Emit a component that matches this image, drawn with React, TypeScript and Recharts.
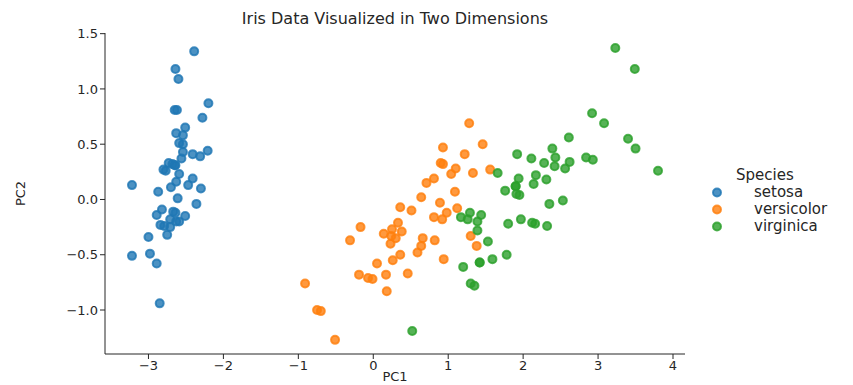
import React from 'react';
import { ScatterChart, Scatter, XAxis, YAxis } from 'recharts';

// PC1 / PC2 values per species
const setosaPC1 = [
  -2.68, -2.71, -2.89, -2.75, -2.73, -2.28, -2.82, -2.63, -2.89, -2.67,
  -2.51, -2.61, -2.79, -3.22, -2.64, -2.39, -2.62, -2.65, -2.2, -2.59,
  -2.31, -2.54, -3.22, -2.3, -2.36, -2.51, -2.47, -2.56, -2.64, -2.63,
  -2.59, -2.41, -2.65, -2.6, -2.64, -2.87, -2.63, -2.8, -2.98, -2.59,
  -2.77, -2.85, -3.0, -2.41, -2.21, -2.71, -2.54, -2.84, -2.54, -2.7,
];
const setosaPC2 = [
  0.32, -0.18, -0.14, -0.32, 0.33, 0.74, -0.09, 0.16, -0.58, -0.11,
  0.65, 0.01, -0.24, -0.51, 1.18, 1.34, 0.81, 0.31, 0.87, 0.51,
  0.39, 0.43, 0.13, 0.1, -0.04, -0.15, 0.13, 0.37, 0.31, -0.2,
  -0.2, 0.41, 0.81, 1.09, -0.12, 0.07, 0.6, 0.27, -0.49, 0.23,
  0.26, -0.94, -0.34, 0.19, 0.44, -0.25, 0.5, -0.23, 0.58, 0.11,
];
const versicolorPC1 = [
  1.28, 0.93, 1.46, 0.18, 1.09, 0.64, 1.1, -0.75, 1.04, -0.01,
  -0.51, 0.51, 0.26, 0.98, -0.17, 0.93, 0.66, 0.24, 0.94, 0.05,
  1.12, 0.36, 1.3, 0.92, 0.71, 0.9, 1.33, 1.56, 0.81, -0.31,
  -0.07, -0.19, 0.14, 1.38, 0.59, 0.81, 1.22, 0.82, 0.25, 0.17,
  0.46, 0.89, 0.23, -0.7, 0.36, 0.33, 0.38, 0.64, -0.91, 0.3,
];
const versicolorPC2 = [
  0.69, 0.32, 0.5, -0.83, 0.07, -0.42, 0.28, -1.0, 0.23, -0.72,
  -1.27, -0.1, -0.55, -0.12, -0.25, 0.47, -0.35, -0.33, -0.54, -0.58,
  -0.08, -0.07, -0.33, -0.18, 0.15, 0.33, 0.24, 0.27, -0.16, -0.37,
  -0.71, -0.68, -0.31, -0.42, -0.48, 0.19, 0.41, -0.37, -0.27, -0.68,
  -0.67, -0.03, -0.4, -1.01, -0.5, -0.21, -0.29, 0.02, -0.76, -0.35,
];
const virginicaPC1 = [
  2.53, 1.42, 2.62, 1.97, 2.35, 3.4, 0.52, 2.93, 2.32, 2.92,
  1.66, 1.8, 2.17, 1.35, 1.59, 1.9, 1.95, 3.49, 3.8, 1.3,
  2.43, 1.2, 3.5, 1.39, 2.28, 2.61, 1.26, 1.29, 2.12, 2.39,
  2.84, 3.23, 2.16, 1.44, 1.78, 3.08, 2.14, 1.91, 1.17, 2.11,
  2.31, 1.92, 1.42, 2.56, 2.42, 1.94, 1.53, 1.76, 1.9, 1.39,
];
const virginicaPC2 = [
  -0.01, -0.57, 0.34, -0.18, -0.04, 0.55, -1.19, 0.36, -0.24, 0.78,
  0.24, -0.22, 0.22, -0.78, -0.54, 0.12, 0.04, 1.18, 0.26, -0.76,
  0.38, -0.61, 0.46, -0.2, 0.33, 0.56, -0.18, -0.12, -0.21, 0.46,
  0.38, 1.37, -0.22, -0.14, -0.5, 0.69, 0.14, 0.05, -0.16, 0.37,
  0.18, 0.41, -0.57, 0.28, 0.3, 0.19, -0.38, 0.08, 0.12, -0.28,
];

const xTicks = [-3, -2, -1, 0, 1, 2, 3, 4];
const yTicks = [-1.0, -0.5, 0.0, 0.5, 1.0, 1.5];

const species = [
  { name: 'setosa', color: '#1f77b4', pc1: setosaPC1, pc2: setosaPC2 },
  { name: 'versicolor', color: '#ff7f0e', pc1: versicolorPC1, pc2: versicolorPC2 },
  { name: 'virginica', color: '#2ca02c', pc1: virginicaPC1, pc2: virginicaPC2 },
];

const FONT = '"DejaVu Sans", sans-serif';
const INK = '#262626';

const minus = (s: string) => s.replace('-', '\u2212');

const makeDot = (color: string) => (props: any) => (
  <circle
    cx={props.cx}
    cy={props.cy}
    r={4}
    fill={color}
    fillOpacity={0.8}
    stroke={color}
    strokeOpacity={0.8}
    strokeWidth={2}
  />
);

// legend sits outside the chart so it doesn't eat into the plot area
const SpeciesLegend = () => (
  <div style={{
    position: 'absolute', left: 700, top: 167, width: 153,
    fontFamily: FONT, color: INK, fontSize: 15, lineHeight: '17px',
  }}>
    <div style={{ marginLeft: 36 }}>Species</div>
    {species.map(s => (
      <div key={s.name} style={{ display: 'flex', alignItems: 'center', height: 17 }}>
        <svg width={54} height={17} style={{ flex: 'none' }}>
          <circle cx={17} cy={8.5} r={4} fill={s.color} fillOpacity={0.8}
            stroke={s.color} strokeOpacity={0.8} strokeWidth={2} />
        </svg>
        <span>{s.name}</span>
      </div>
    ))}
  </div>
);

export default function App() {
  return (
    <div style={{ position: 'absolute', left: 0, top: 0, width: 853, height: 385, background: '#fff' }}>
      <ScatterChart width={853} height={385} margin={{ top: 33, right: 168, bottom: 0, left: 0 }}>
        <text x={395} y={18} textAnchor="middle" dominantBaseline="central"
          style={{ fontFamily: FONT, fontSize: 16, fill: INK }}>
          Iris Data Visualized in Two Dimensions
        </text>
        <XAxis
          type="number"
          dataKey="x"
          domain={[-3.58, 4.16]}
          ticks={xTicks}
          allowDataOverflow
          height={31}
          stroke={INK}
          tickSize={5}
          tick={{ fill: INK, fontSize: 13, fontFamily: FONT }}
          tickFormatter={(v: number) => minus(String(v))}
          label={({ viewBox }: any) => (
            <text
              x={viewBox.x + viewBox.width / 2}
              y={376}
              textAnchor="middle"
              dominantBaseline="central"
              style={{ fontFamily: FONT, fontSize: 13, fill: INK }}
            >
              PC1
            </text>
          )}
        />
        <YAxis
          type="number"
          dataKey="y"
          domain={[-1.398, 1.506]}
          ticks={yTicks}
          allowDataOverflow
          width={105}
          stroke={INK}
          tickSize={5}
          tick={{ fill: INK, fontSize: 13, fontFamily: FONT }}
          tickFormatter={(v: number) => minus(v.toFixed(1))}
          label={({ viewBox }: any) => (
            <text
              x={20}
              y={viewBox.y + viewBox.height / 2}
              transform={`rotate(-90, 20, ${viewBox.y + viewBox.height / 2})`}
              textAnchor="middle"
              dominantBaseline="central"
              style={{ fontFamily: FONT, fontSize: 13, fill: INK }}
            >
              PC2
            </text>
          )}
        />
        {species.map(s => (
          <Scatter
            key={s.name}
            name={s.name}
            data={s.pc1.map((x, i) => ({ x, y: s.pc2[i] }))}
            fill={s.color}
            shape={makeDot(s.color)}
            isAnimationActive={false}
          />
        ))}
      </ScatterChart>
      <SpeciesLegend />
    </div>
  );
}
